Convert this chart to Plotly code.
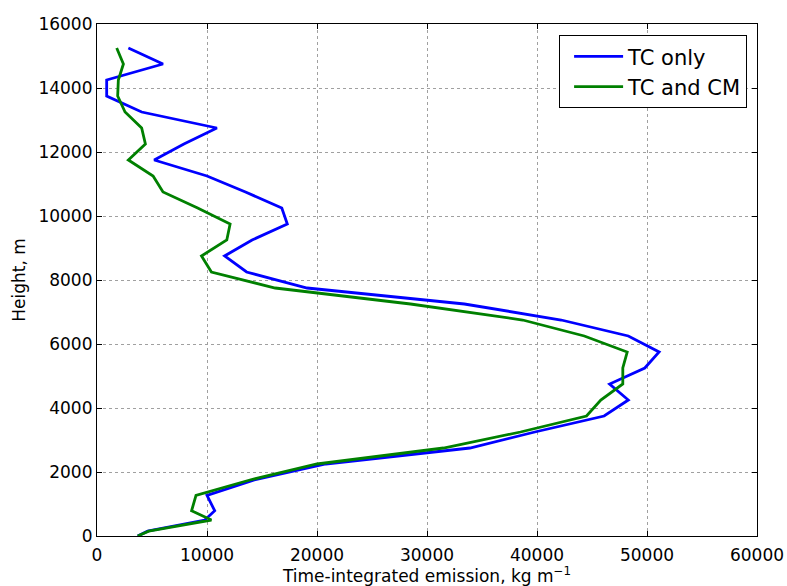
import plotly.graph_objects as go

# Model level heights (m)
height_m = [0, 150, 500, 790, 1270, 1750, 2250, 2750, 3250, 3750, 4250, 4750,
            5250, 5750, 6250, 6750, 7250, 7750, 8250, 8750, 9250, 9750, 10250,
            10750, 11250, 11750, 12250, 12750, 13250, 13750, 14250, 14750, 15250]

# Time-integrated emission per level (kg m^-1)
tc_only = [3700, 4600, 9800, 10700, 10000, 14300, 20800, 33900, 39800, 46100,
           48300, 46600, 49800, 51100, 48300, 42200, 33400, 19100, 13600, 11600,
           14100, 17300, 16800, 13500, 10000, 5200, 7900, 10900, 4060, 880, 880,
           6000, 2850]
tc_and_cm = [3700, 4700, 10400, 8600, 9000, 13900, 20000, 31500, 38500, 44500,
             45800, 47800, 47800, 48200, 44300, 38700, 28500, 16200, 10400, 9500,
             11800, 12100, 9150, 6000, 5100, 2850, 4400, 4060, 2550, 1880, 1940,
             2400, 1790]

series_names = ["TC only", "TC and CM"]
series_colors = ["#0000ff", "#008000"]

x_ticks = [0, 10000, 20000, 30000, 40000, 50000, 60000]
y_ticks = [0, 2000, 4000, 6000, 8000, 10000, 12000, 14000, 16000]

fig = go.Figure()
for name, vals, col in zip(series_names, [tc_only, tc_and_cm], series_colors):
    fig.add_trace(go.Scatter(x=vals, y=height_m, mode="lines", name=name,
                             line=dict(color=col, width=2.8)))

axis_common = dict(
    automargin=False,
    showline=True, linecolor="black", linewidth=1.2, mirror="ticks",
    ticks="inside", ticklen=5, tickwidth=1, tickcolor="black",
    showgrid=True, gridcolor="#a0a0a0", gridwidth=1, griddash="dot",
    zeroline=False,
    tickfont=dict(family="DejaVu Sans", size=17, color="black"),
)

fig.update_xaxes(range=[0, 60000], tickvals=x_ticks,
                 ticktext=[str(v) for v in x_ticks],
                 ticklabelstandoff=3,
                 title=dict(text="Time-integrated emission, kg m<sup>\u22121</sup>",
                            font=dict(family="DejaVu Sans", size=17, color="black"),
                            standoff=14),
                 **axis_common)
fig.update_yaxes(range=[0, 16000], tickvals=y_ticks,
                 ticktext=[str(v) for v in y_ticks],
                 title=dict(text="Height, m",
                            font=dict(family="DejaVu Sans", size=17, color="black"),
                            standoff=8),
                 **axis_common)

fig.update_layout(
    width=787, height=586,
    margin=dict(l=97, r=30, t=24, b=50),
    paper_bgcolor="white", plot_bgcolor="white",
    font=dict(family="DejaVu Sans", color="black"),
    legend=dict(x=0.985, xanchor="right", y=0.978, yanchor="top",
                bgcolor="white", bordercolor="black", borderwidth=1,
                indentation=9, itemwidth=49,
                font=dict(family="DejaVu Sans", size=21, color="black")),
)

fig.write_html("out.html")
